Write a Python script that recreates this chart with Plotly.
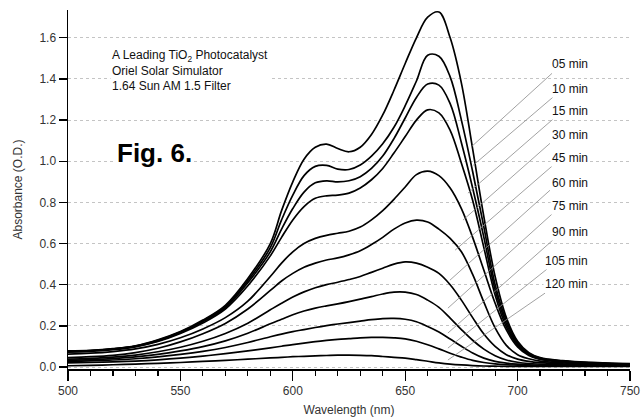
import plotly.graph_objects as go

# Wavelength grid (nm)
wavelength = [500, 510, 520, 530, 540, 550, 560, 570, 580, 590, 595, 600, 605, 610, 615,
              620, 625, 630, 635, 640, 645, 650, 655, 660, 665, 670, 675, 680, 685, 690,
              695, 700, 705, 710, 720, 730, 740, 750]

# Absorbance spectra (O.D.), top to bottom
spec_1 = [0.078, 0.081, 0.089, 0.103, 0.132, 0.172, 0.228, 0.300, 0.430, 0.600, 0.760, 0.900, 1.010, 1.068, 1.083,
          1.062, 1.046, 1.068, 1.130, 1.225, 1.345, 1.475, 1.600, 1.700, 1.725, 1.600, 1.380, 1.060, 0.730, 0.440,
          0.240, 0.125, 0.070, 0.046, 0.031, 0.024, 0.019, 0.016]
spec_2 = [0.077, 0.080, 0.088, 0.102, 0.130, 0.170, 0.224, 0.294, 0.420, 0.580, 0.715, 0.835, 0.930, 0.975, 0.980,
          0.962, 0.960, 0.982, 1.025, 1.085, 1.165, 1.270, 1.390, 1.515, 1.510, 1.410, 1.200, 0.950, 0.680, 0.400,
          0.225, 0.118, 0.066, 0.043, 0.029, 0.022, 0.018, 0.015]
spec_3 = [0.075, 0.079, 0.087, 0.100, 0.127, 0.167, 0.220, 0.288, 0.410, 0.560, 0.670, 0.770, 0.850, 0.895, 0.905,
          0.900, 0.905, 0.925, 0.965, 1.025, 1.110, 1.210, 1.310, 1.375, 1.370, 1.280, 1.090, 0.870, 0.630, 0.375,
          0.210, 0.112, 0.063, 0.041, 0.028, 0.021, 0.017, 0.014]
spec_4 = [0.072, 0.076, 0.084, 0.098, 0.124, 0.163, 0.214, 0.282, 0.395, 0.540, 0.630, 0.715, 0.780, 0.820, 0.832,
          0.835, 0.845, 0.870, 0.910, 0.965, 1.040, 1.120, 1.200, 1.250, 1.235, 1.150, 0.990, 0.810, 0.580, 0.350,
          0.195, 0.105, 0.060, 0.039, 0.027, 0.020, 0.016, 0.013]
spec_5 = [0.063, 0.067, 0.075, 0.088, 0.110, 0.142, 0.185, 0.240, 0.320, 0.440, 0.505, 0.560, 0.600, 0.625, 0.640,
          0.650, 0.660, 0.680, 0.715, 0.760, 0.815, 0.875, 0.935, 0.952, 0.930, 0.870, 0.770, 0.630, 0.470, 0.310,
          0.180, 0.098, 0.056, 0.037, 0.025, 0.019, 0.015, 0.012]
spec_6 = [0.046, 0.050, 0.057, 0.070, 0.091, 0.122, 0.162, 0.212, 0.282, 0.372, 0.418, 0.455, 0.485, 0.505, 0.520,
          0.530, 0.545, 0.565, 0.595, 0.630, 0.670, 0.700, 0.714, 0.705, 0.670, 0.625, 0.560, 0.450, 0.315, 0.190,
          0.105, 0.060, 0.040, 0.029, 0.020, 0.015, 0.012, 0.010]
spec_7 = [0.038, 0.042, 0.048, 0.058, 0.074, 0.096, 0.125, 0.163, 0.213, 0.278, 0.310, 0.340, 0.365, 0.385, 0.400,
          0.412, 0.425, 0.440, 0.460, 0.480, 0.500, 0.511, 0.505, 0.485, 0.455, 0.400, 0.325, 0.240, 0.160, 0.100,
          0.060, 0.038, 0.027, 0.021, 0.015, 0.012, 0.010, 0.008]
spec_8 = [0.033, 0.036, 0.041, 0.049, 0.061, 0.078, 0.099, 0.127, 0.164, 0.210, 0.232, 0.254, 0.272, 0.286, 0.297,
          0.307, 0.318, 0.330, 0.342, 0.355, 0.364, 0.364, 0.352, 0.325, 0.290, 0.238, 0.182, 0.130, 0.087, 0.055,
          0.034, 0.023, 0.017, 0.014, 0.010, 0.008, 0.007, 0.006]
spec_9 = [0.028, 0.030, 0.034, 0.040, 0.049, 0.061, 0.076, 0.095, 0.119, 0.147, 0.160, 0.172, 0.182, 0.192, 0.201,
          0.209, 0.216, 0.223, 0.230, 0.235, 0.236, 0.232, 0.220, 0.197, 0.170, 0.136, 0.101, 0.068, 0.043, 0.027,
          0.019, 0.014, 0.011, 0.009, 0.007, 0.006, 0.005, 0.005]
spec_10 = [0.020, 0.022, 0.025, 0.029, 0.035, 0.043, 0.053, 0.065, 0.078, 0.093, 0.101, 0.109, 0.116, 0.123, 0.129,
           0.134, 0.138, 0.142, 0.144, 0.144, 0.142, 0.137, 0.125, 0.108, 0.088, 0.067, 0.048, 0.032, 0.022, 0.015,
           0.011, 0.009, 0.007, 0.006, 0.005, 0.004, 0.004, 0.004]
spec_11 = [0.006, 0.008, 0.011, 0.014, 0.018, 0.022, 0.027, 0.032, 0.038, 0.044, 0.047, 0.050, 0.052, 0.054, 0.056,
           0.058, 0.058, 0.057, 0.055, 0.051, 0.047, 0.043, 0.036, 0.028, 0.020, 0.014, 0.010, 0.007, 0.005, 0.004,
           0.003, 0.003, 0.003, 0.003, 0.003, 0.003, 0.003, 0.003]

spectra = [spec_1, spec_2, spec_3, spec_4, spec_5, spec_6, spec_7, spec_8, spec_9, spec_10, spec_11]

# Time labels and their positions (layout, data coords)
time_labels = ["05 min", "10 min", "15 min", "30 min", "45 min", "60 min", "75 min", "90 min", "105 min", "120 min"]
label_x = 732.2
label_y = [1.471, 1.350, 1.243, 1.126, 1.015, 0.893, 0.782, 0.655, 0.515, 0.403]
leader_start = [(715.3, 1.427), (715.7, 1.311), (715.7, 1.204), (714.4, 1.087), (715.3, 0.976),
                (714.4, 0.859), (715.3, 0.743), (715.7, 0.617), (713.1, 0.476), (712.2, 0.359)]
leader_end = [(679.7, 1.073), (680.2, 0.980), (677.9, 0.845), (675.7, 0.714), (672.2, 0.568),
              (669.9, 0.422), (669.0, 0.286), (669.0, 0.165), (669.0, 0.092), (669.0, 0.034)]

y_ticks = [0.0, 0.2, 0.4, 0.6, 0.8, 1.0, 1.2, 1.4, 1.6]
x_ticks = [500, 550, 600, 650, 700, 750]

FONT = "Liberation Sans, Arial, sans-serif"

fig = go.Figure()
for i, s in enumerate(spectra):
    fig.add_trace(go.Scatter(
        x=wavelength, y=s, mode="lines", name=f"spectrum {i+1}",
        line=dict(color="black", width=1.7, shape="spline", smoothing=1.0),
        showlegend=False, hoverinfo="skip"))

shapes = []
for (x0, y0), (x1, y1) in zip(leader_start, leader_end):
    shapes.append(dict(type="line", xref="x", yref="y", x0=x0, y0=y0, x1=x1, y1=y1,
                       line=dict(color="#8a8a8a", width=0.8)))

annotations = []
for txt, yy in zip(time_labels, label_y):
    annotations.append(dict(x=label_x, y=yy, xref="x", yref="y", text=txt, showarrow=False,
                            xanchor="right", yanchor="middle", bgcolor="white", borderpad=1,
                            font=dict(family=FONT, size=12, color="#111")))

annotations.append(dict(x=518.7, y=1.442, xref="x", yref="y",
                        text="A Leading TiO<sub>2</sub> Photocatalyst<br>Oriel Solar Simulator<br>1.64 Sun AM 1.5 Filter",
                        showarrow=False, xanchor="left", yanchor="middle", align="left",
                        bgcolor="white", font=dict(family=FONT, size=12, color="#111")))
annotations.append(dict(x=520.9, y=1.039, xref="x", yref="y", text="<b>Fig. 6.</b>",
                        showarrow=False, xanchor="left", yanchor="middle", bgcolor="white",
                        font=dict(family=FONT, size=26, color="black")))

fig.update_layout(
    width=641, height=417,
    margin=dict(l=68, r=11, t=10, b=48),
    paper_bgcolor="white", plot_bgcolor="white",
    font=dict(family=FONT, size=12, color="#333"),
    shapes=shapes, annotations=annotations,
    xaxis=dict(range=[500, 750], tickvals=x_ticks, ticks="outside", ticklen=10, tickwidth=1.3,
               tickcolor="black", showline=True, linecolor="black", linewidth=1.5,
               showgrid=False, zeroline=False, automargin=False, ticklabeloverflow="allow",
               tickfont=dict(family=FONT, size=12, color="#333"),
               minor=dict(dtick=10, ticks="outside", ticklen=5, tickwidth=1.2, tickcolor="black", showgrid=False),
               title=dict(text="Wavelength (nm)", font=dict(family=FONT, size=12, color="#333"), standoff=8)),
    yaxis=dict(range=[-0.0097, 1.735], tickvals=y_ticks, tickformat=".1f", ticks="outside", ticklen=8,
               tickwidth=1.3, tickcolor="black", showline=True, linecolor="black", linewidth=1.5,
               showgrid=True, gridcolor="#c4c4c4", griddash="dot", gridwidth=1, zeroline=False,
               automargin=False, tickfont=dict(family=FONT, size=12, color="#333"),
               title=dict(text="Absorbance (O.D.)", font=dict(family=FONT, size=12, color="#333"), standoff=14)),
)

# Remove the browser's default 8px body margin so the 641x417 figure fills the window exactly
fig.write_html("out.html",
               config={"displayModeBar": False, "staticPlot": True},
               post_script="document.documentElement.style.margin='0';document.body.style.margin='0';"
                           "document.body.style.overflow='hidden';")
